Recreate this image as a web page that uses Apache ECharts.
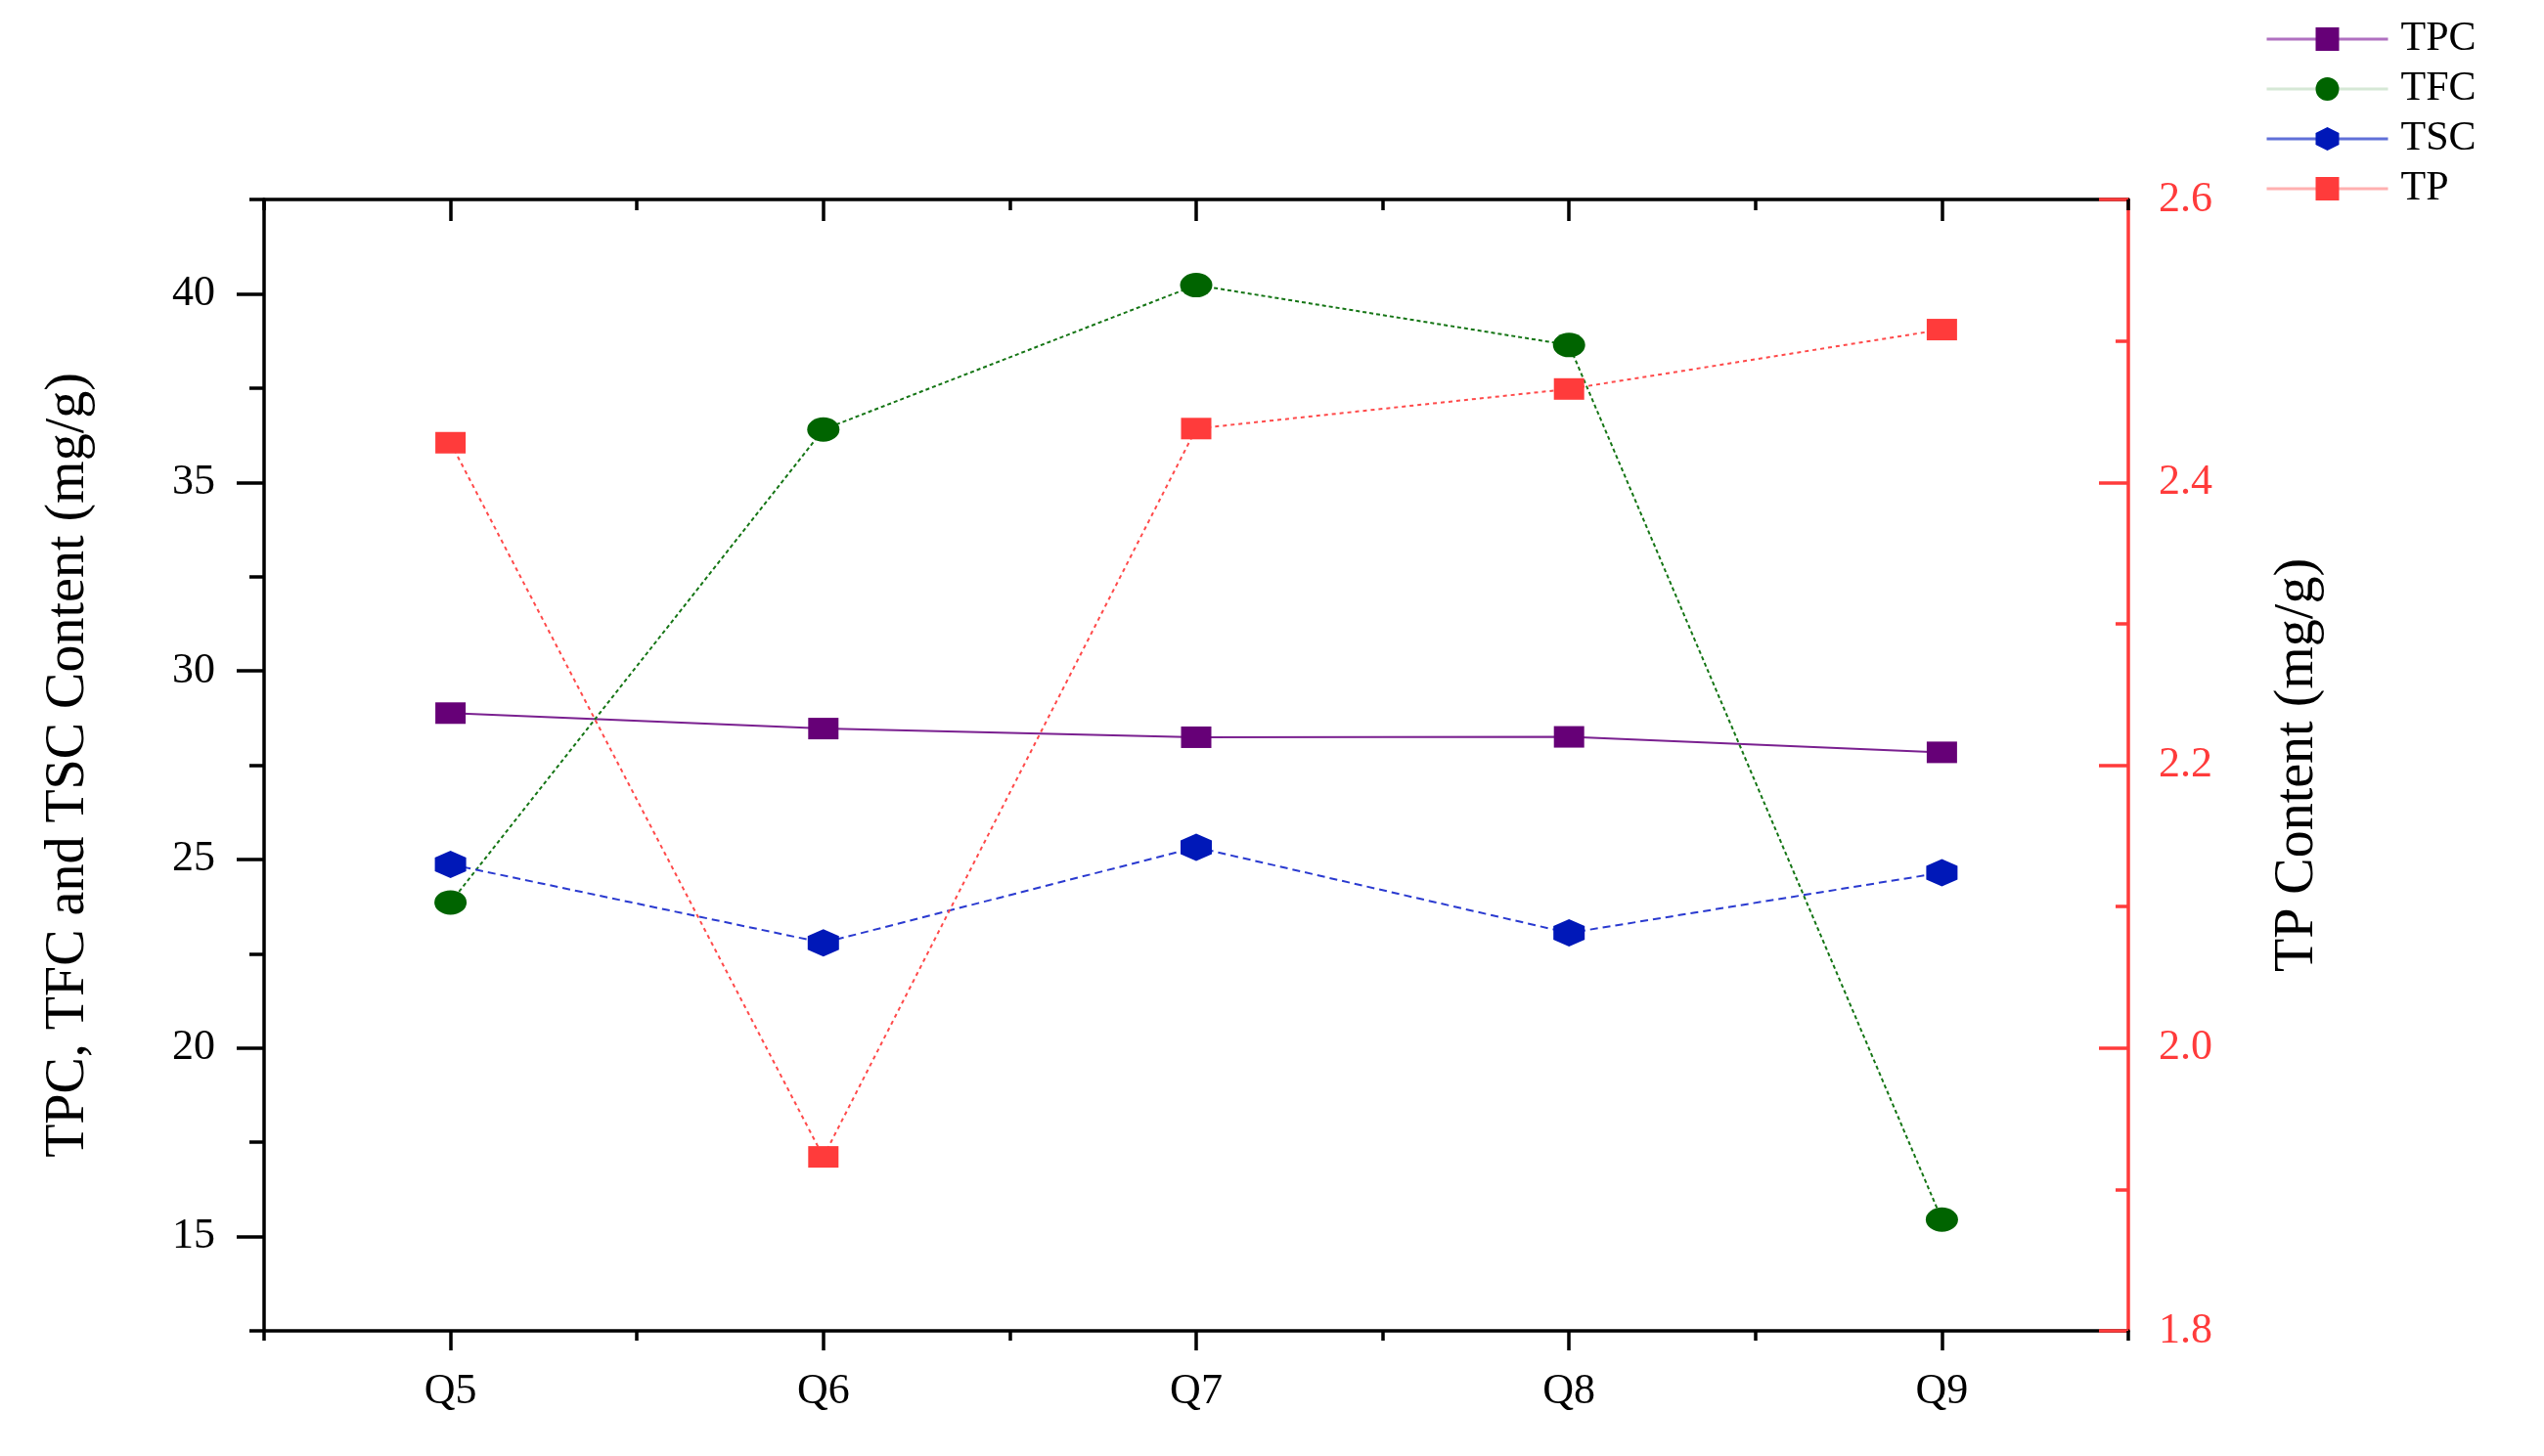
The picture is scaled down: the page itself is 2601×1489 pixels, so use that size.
<!DOCTYPE html>
<html>
<head>
<meta charset="utf-8">
<script src="https://cdn.jsdelivr.net/npm/echarts@6/dist/echarts.min.js"></script>
<style>
  html, body { margin: 0; padding: 0; background: #fff; }
  #chart { width: 2601px; height: 1489px; }
</style>
</head>
<body>
<div id="chart"></div>
<script>
// 数据
var categories = ['Q5', 'Q6', 'Q7', 'Q8', 'Q9'];
var tpc = [28.88, 28.47, 28.24, 28.25, 27.84];
var tfc = [23.86, 36.40, 40.23, 38.64, 15.45];
var tsc = [24.87, 22.79, 25.32, 23.05, 24.65];
var tp = [2.428, 1.923, 2.438, 2.466, 2.508];

// 刻度
var leftMajor = [15, 20, 25, 30, 35, 40];
var leftMinor = [12.5, 17.5, 22.5, 27.5, 32.5, 37.5, 42.5];
var rightMajor = [1.8, 2.0, 2.2, 2.4, 2.6];
var rightMinor = [1.9, 2.1, 2.3, 2.5];

var FONT = '"Liberation Serif", "DejaVu Serif", serif';
var RED = '#ff3b3b';
var AXW = 3.5;

var hexagon = 'path://M0,-1 L0.866,-0.5 L0.866,0.5 L0,1 L-0.866,0.5 L-0.866,-0.5 Z';

var chart = echarts.init(document.getElementById('chart'));

// x轴: 底部主刻度/次刻度, 顶部镜像
function xAxisBase(position) {
    return {
        type: 'category',
        data: categories,
        position: position,
        boundaryGap: true,
        axisLine: { show: false },
        axisLabel: { show: false },
        splitLine: { show: false }
    };
}
var xMainBottom = xAxisBase('bottom');
xMainBottom.axisLine = { show: true, lineStyle: { color: '#000', width: AXW } };
xMainBottom.axisTick = { show: true, alignWithLabel: true, length: 20, lineStyle: { color: '#000', width: AXW } };
xMainBottom.axisLabel = { show: true, color: '#000', fontFamily: FONT, fontSize: 44, margin: 40 };

var xMinorBottom = xAxisBase('bottom');
xMinorBottom.axisTick = { show: true, alignWithLabel: false, length: 10, lineStyle: { color: '#000', width: AXW } };

var xMainTop = xAxisBase('top');
xMainTop.axisLine = { show: true, lineStyle: { color: '#000', width: AXW } };
xMainTop.axisTick = { show: true, inside: true, alignWithLabel: true, length: 22, lineStyle: { color: '#000', width: AXW } };

var xMinorTop = xAxisBase('top');
xMinorTop.axisTick = { show: true, inside: true, alignWithLabel: false, length: 11, lineStyle: { color: '#000', width: AXW } };

var option = {
    backgroundColor: '#fff',
    animation: false,
    grid: {
        left: 270,
        right: 425,
        top: 204,
        bottom: 128,
        containLabel: false
    },
    legend: {
        orient: 'vertical',
        left: 2311,
        top: 14,
        itemWidth: 124,
        itemHeight: 30,
        itemGap: 9,
        textStyle: { color: '#000', fontFamily: FONT, fontSize: 42, lineHeight: 42, padding: [0, 0, 0, 8] },
        data: [
            { name: 'TPC', lineStyle: { color: '#b070c0', type: 'solid', width: 3 } },
            { name: 'TFC', lineStyle: { color: '#d6e8d6', type: 'solid', width: 3 } },
            { name: 'TSC', lineStyle: { color: '#6070d8', type: 'solid', width: 3 } },
            { name: 'TP', lineStyle: { color: '#ffb0b0', type: 'solid', width: 3 } }
        ]
    },
    xAxis: [xMainBottom, xMinorBottom, xMainTop, xMinorTop],
    yAxis: [
        {
            type: 'value',
            position: 'left',
            min: 12.5,
            max: 42.5,
            interval: 2.5,
            name: 'TPC, TFC and TSC Content (mg/g)',
            nameLocation: 'middle',
            nameRotate: 90,
            nameGap: 172,
            nameTextStyle: { color: '#000', fontFamily: FONT, fontSize: 56 },
            axisLine: { show: true, lineStyle: { color: '#000', width: AXW } },
            axisTick: { show: true, customValues: leftMajor, length: 28, lineStyle: { color: '#000', width: AXW } },
            axisLabel: { customValues: leftMajor, color: '#000', fontFamily: FONT, fontSize: 44, margin: 50 },
            splitLine: { show: false }
        },
        {
            type: 'value',
            position: 'left',
            min: 12.5,
            max: 42.5,
            interval: 2.5,
            axisLine: { show: false },
            axisTick: { show: true, customValues: leftMinor, length: 15, lineStyle: { color: '#000', width: AXW } },
            axisLabel: { show: false },
            splitLine: { show: false }
        },
        {
            type: 'value',
            position: 'right',
            min: 1.8,
            max: 2.6,
            interval: 0.2,
            name: 'TP Content (mg/g)',
            nameLocation: 'middle',
            nameRotate: 90,
            nameGap: 145,
            nameTextStyle: { color: '#000', fontFamily: FONT, fontSize: 56 },
            axisLine: { show: true, lineStyle: { color: RED, width: AXW } },
            axisTick: { show: true, inside: true, customValues: rightMajor, length: 30, lineStyle: { color: RED, width: AXW } },
            axisLabel: {
                customValues: rightMajor,
                color: RED,
                fontFamily: FONT,
                fontSize: 44,
                margin: 31,
                formatter: function (v) { return v.toFixed(1); }
            },
            splitLine: { show: false }
        },
        {
            type: 'value',
            position: 'right',
            min: 1.8,
            max: 2.6,
            interval: 0.2,
            axisLine: { show: false },
            axisTick: { show: true, inside: true, customValues: rightMinor, length: 13, lineStyle: { color: RED, width: AXW } },
            axisLabel: { show: false },
            splitLine: { show: false }
        }
    ],
    series: [
        {
            name: 'TPC',
            type: 'line',
            xAxisIndex: 0,
            yAxisIndex: 0,
            data: tpc,
            symbol: 'rect',
            symbolSize: [31, 22],
            itemStyle: { color: '#660077' },
            lineStyle: { color: '#7a2090', width: 2, type: 'solid' },
            z: 3
        },
        {
            name: 'TFC',
            type: 'line',
            xAxisIndex: 0,
            yAxisIndex: 0,
            data: tfc,
            symbol: 'circle',
            symbolSize: [33, 25],
            itemStyle: { color: '#006400' },
            lineStyle: { color: '#157515', width: 2, type: [4, 3] },
            z: 3
        },
        {
            name: 'TSC',
            type: 'line',
            xAxisIndex: 0,
            yAxisIndex: 0,
            data: tsc,
            symbol: hexagon,
            symbolSize: [32, 28],
            itemStyle: { color: '#0018b8' },
            lineStyle: { color: '#2a3ad0', width: 2, type: [8, 5] },
            z: 3
        },
        {
            name: 'TP',
            type: 'line',
            xAxisIndex: 0,
            yAxisIndex: 2,
            data: tp,
            symbol: 'rect',
            symbolSize: [31, 22],
            itemStyle: { color: RED },
            lineStyle: { color: '#ff4a4a', width: 2, type: [4, 4] },
            z: 3
        }
    ]
};

chart.setOption(option);
</script>
</body>
</html>
